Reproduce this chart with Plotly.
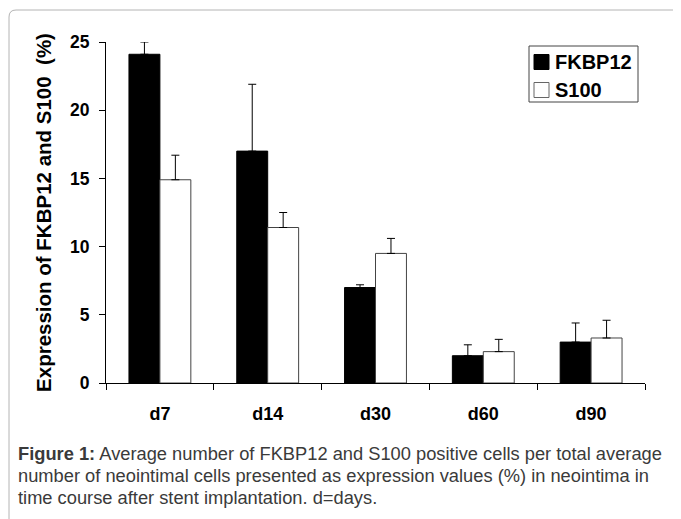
import plotly.graph_objects as go

categories = ["d7", "d14", "d30", "d60", "d90"]
fkbp12 = [24.1, 17.0, 7.0, 2.0, 3.0]
fkbp12_err_top = [25.0, 21.9, 7.2, 2.8, 4.4]
s100 = [14.9, 11.4, 9.5, 2.3, 3.3]
s100_err_top = [16.7, 12.5, 10.6, 3.2, 4.6]
y_ticks = [0, 5, 10, 15, 20, 25]
series_names = ["FKBP12", "S100"]
caption_lines = [
    "<b>Figure 1:</b> Average number of FKBP12 and S100 positive cells per total average",
    "number of neointimal cells presented as expression values (%) in neointima in",
    "time course after stent implantation. d=days.",
]

# page offset of the plot div (body margin 8px)
OFF = 8
W, H = 681 - OFF, 519 - OFF
# plot area in page pixels: x 106..645, y 42..383
PL, PR, PT, PB = 106, 645, 42, 383
L = PL - OFF
R = W - (PR - OFF)
T = PT - OFF
B = H - (PB - OFF)
pw, ph = PR - PL, PB - PT


def px(x):
    return (x - PL) / pw


def py(y):
    return (PB - y) / ph


fig = go.Figure()
fig.add_trace(go.Bar(
    name=series_names[0], x=categories, y=fkbp12,
    marker=dict(color="black", line=dict(color="black", width=1)),
    error_y=dict(type="data", symmetric=False,
                 array=[t - v for t, v in zip(fkbp12_err_top, fkbp12)],
                 arrayminus=[0] * len(fkbp12),
                 color="black", thickness=1, width=4),
))
fig.add_trace(go.Bar(
    name=series_names[1], x=categories, y=s100,
    marker=dict(color="white", line=dict(color="#444444", width=1)),
    error_y=dict(type="data", symmetric=False,
                 array=[t - v for t, v in zip(s100_err_top, s100)],
                 arrayminus=[0] * len(s100),
                 color="black", thickness=1, width=4),
))

font_main = "Liberation Sans, Arial, sans-serif"

fig.update_layout(
    width=W, height=H,
    margin=dict(l=L, r=R, t=T, b=B, autoexpand=False),
    paper_bgcolor="white", plot_bgcolor="white",
    barmode="group", bargap=0.426, bargroupgap=0,
    showlegend=False,
    font=dict(family=font_main, color="black"),
    xaxis=dict(
        type="category", tickson="boundaries",
        showline=True, linecolor="black", linewidth=1,
        ticks="outside", ticklen=6, tickcolor="black", tickwidth=1,
        tickfont=dict(family=font_main, size=18, color="black", weight="bold"),
        ticklabelstandoff=14,
        showgrid=False, zeroline=False,
    ),
    yaxis=dict(
        range=[0, 25], tickvals=y_ticks,
        showline=True, linecolor="black", linewidth=1,
        ticks="outside", ticklen=6, tickcolor="black", tickwidth=1,
        tickfont=dict(family=font_main, size=17.5, color="black", weight="bold"),
        ticklabelstandoff=6,
        showgrid=False, zeroline=False,
        title=dict(text="Expression of FKBP12 and S100  (%)",
                   font=dict(family=font_main, size=20.5, color="black", weight="bold"),
                   standoff=12),
    ),
)

# outer frame with rounded top-left corner
r = 7
lx, ty, rx, by = px(9), py(10), px(700), py(540)
path = f"M {lx},{by} L {lx},{py(10 + r)} Q {lx},{ty} {px(9 + r)},{ty} L {rx},{ty}"
fig.add_shape(type="path", path=path, xref="paper", yref="paper",
              line=dict(color="#b4b4b4", width=1))

# legend box
fig.add_shape(type="rect", xref="paper", yref="paper",
              x0=px(529), x1=px(638), y0=py(102), y1=py(46),
              line=dict(color="#444444", width=1), fillcolor="white")
legend_items = [("black", "black", 62), ("white", "#666666", 90)]
for name, (fill, edge, cy) in zip(series_names, legend_items):
    fig.add_shape(type="rect", xref="paper", yref="paper",
                  x0=px(534), x1=px(549), y0=py(cy + 7.5), y1=py(cy - 7.5),
                  line=dict(color=edge, width=1), fillcolor=fill)
    fig.add_annotation(text=f"<b>{name}</b>", xref="paper", yref="paper",
                       x=px(553), y=py(cy), xanchor="left", yanchor="middle",
                       showarrow=False,
                       font=dict(family=font_main, size=20, color="black"))

# caption
for i, line in enumerate(caption_lines):
    fig.add_annotation(text=line, xref="paper", yref="paper",
                       x=px(16), y=py(453 + 22 * i), xanchor="left", yanchor="middle",
                       align="left", showarrow=False,
                       font=dict(family=font_main, size=18.3, color="#3a3a3a"))

fig.write_html("out.html")
